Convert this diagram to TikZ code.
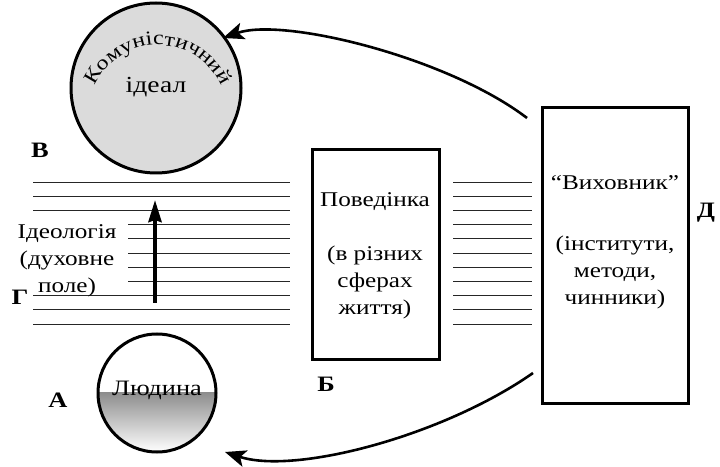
\documentclass[tikz,border=0pt]{standalone}
\usepackage{fontspec}
\setmainfont{Liberation Serif}[FakeStretch=1.2]
\usetikzlibrary{arrows.meta,decorations.text}

\tikzset{
  txt/.style={font=\fontsize{21}{27}\selectfont, align=center, inner sep=0pt},
  lbl/.style={font=\fontsize{22}{24}\selectfont\bfseries, inner sep=0pt},
  frame/.style={draw=black, line width=3pt},
  fieldline/.style={draw=black!85, line width=0.9pt},
  curvearrow/.style={draw=black, line width=2.6pt,
    -{Stealth[length=21pt,width=17pt,inset=5pt]}},
  uparrow/.style={draw=black, line width=4pt,
    -{Stealth[length=22pt,width=13pt,inset=2pt]}},
}

\begin{document}
\begin{tikzpicture}[x=1pt,y=1pt]
\useasboundingbox (0,0) rectangle (720,466);

% the ideal: grey disc with arched caption
\node[circle, draw=black, line width=3pt, fill=black!14, minimum size=170pt, inner sep=0pt] (ideal) at (156,378) {};
\path[decorate, decoration={text along path, text align=center,
  text={|\fontsize{20}{22}\selectfont|Комуністичний}}]
  (158,352) ++(160:69) arc[start angle=160, end angle=20, radius=69];
\node[font=\fontsize{23}{26}\selectfont, inner sep=0pt] (idealtext) at (156,379) {ідеал};

% the person: disc, lower half shaded
\coordinate (pc) at (157,73);
\begin{scope}
  \clip (pc) circle[radius=59];
  \shade[top color=black!45, bottom color=white] (98,14) rectangle (216,74);
\end{scope}
\node[circle, draw=black, line width=3pt, minimum size=118pt, inner sep=0pt] (person) at (pc) {};
\node[font=\fontsize{22}{26}\selectfont, inner sep=0pt] (persontext) at (157,76) {Людина};

% ideological field: horizontal lines
\foreach \k in {0,1,2,8,9,10}
  \draw[fieldline] (33,{284-14.2*\k}) -- (290,{284-14.2*\k});
\foreach \k in {3,...,7}
  \draw[fieldline] (128,{284-14.2*\k}) -- (290,{284-14.2*\k});
\node[txt] (ideology) at (67,205) {Ідеологія\\(духовне\\поле)};
\coordinate (arrbot) at (155,163);
\coordinate (arrtop) at (155,266);
\draw[uparrow] (arrbot) -- (arrtop);

% behaviour box
\node[frame, minimum width=127pt, minimum height=210pt, inner sep=0pt] (behav) at (375.5,211) {};
\node[txt] (behavtext) at (375,210) {Поведінка\\[27pt](в різних\\сферах\\життя)};

% field lines between the boxes
\foreach \k in {0,...,10}
  \draw[fieldline] (453,{284-14.2*\k}) -- (532,{284-14.2*\k});

% educator box
\node[frame, minimum width=146pt, minimum height=295pt, inner sep=0pt] (educ) at (615,210.5) {};
\node[txt] (eductext) at (615,224) {“Виховник”\\[34pt](інститути,\\методи,\\чинники)};

% letter labels
\node[lbl] (lA) at (58,66) {А};
\node[lbl] (lB) at (326,82) {Б};
\node[lbl] (lV) at (40,316) {В};
\node[lbl] (lG) at (20,169) {Г};
\node[lbl] (lD) at (706,253) {Д};

% influence arrows
\coordinate (topstart) at (527,348);
\coordinate (topend) at (223,428);
\draw[curvearrow] (topstart) .. controls (447,409) and (283,449) .. (topend);
\coordinate (botstart) at (533,93);
\coordinate (botend) at (225,14);
\draw[curvearrow] (botstart) .. controls (443,30) and (295,-9) .. (botend);
\end{tikzpicture}
\end{document}
